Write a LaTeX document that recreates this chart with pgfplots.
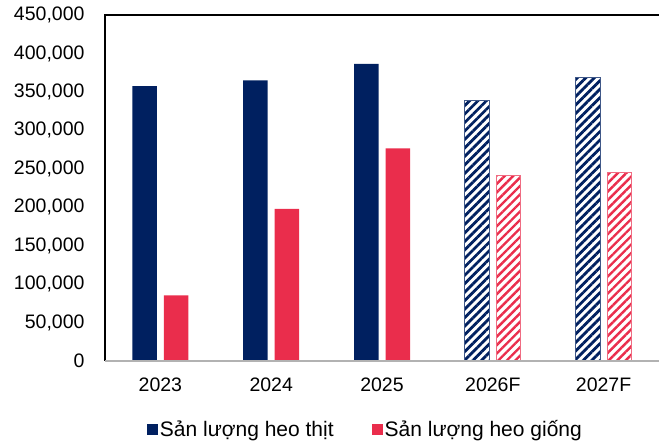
\documentclass[border=0pt]{standalone}
\usepackage{fontspec}
\setmainfont{Liberation Sans}
\usepackage{pgfplots}
\pgfplotsset{compat=1.18}
\usetikzlibrary{patterns.meta,calc}

\definecolor{meatblue}{HTML}{002060}
\definecolor{breedred}{HTML}{EA2D4C}

% Actual years and forecast years
\pgfplotstableread{
x meat breed
0 357500 85500
1 365000 197800
2 386300 276600
}\actual
\pgfplotstableread{
x meat breed
3 338200 241900
4 368100 244900
}\forecast

\begin{document}
\begin{tikzpicture}
\begin{axis}[
  scale only axis,
  width=554pt, height=346pt,
  ymin=0, ymax=450000,
  ytick={0,50000,...,450000},
  scaled y ticks=false,
  /pgf/number format/fixed,
  /pgf/number format/1000 sep={,},
  /pgf/number format/assume math mode=true,
  xmin=-0.5, xmax=4.5,
  xtick={0,1,2,3,4},
  xticklabels={2023,2024,2025,2026F,2027F},
  major tick length=0pt,
  tick label style={font=\fontsize{19.5}{22}\selectfont},
  yticklabel style={xshift=-17pt},
  xticklabel style={yshift=-13pt},
  axis line style={draw=none},
  ybar, bar width=24.5pt,
  legend style={at={(0.47,-0.16)}, anchor=north, draw=none,
    font=\fontsize{21}{24}\selectfont,
    legend columns=2, /tikz/every even column/.append style={column sep=36pt}},
  legend image code/.code={\fill[#1] (0pt,-5.5pt) rectangle (11pt,5.5pt);},
]
\addplot[fill=meatblue, draw=none, bar shift=-15.75pt] table[x=x,y=meat]{\actual};
\addlegendentry{Sản lượng heo thịt}
\addplot[fill=breedred, draw=none, bar shift=15.75pt] table[x=x,y=breed]{\actual};
\addlegendentry{Sản lượng heo giống}
\addplot[forget plot, draw=meatblue!75, line width=1pt, fill=white,
  pattern={Lines[angle=45, distance=6pt, line width=2.8pt]}, pattern color=meatblue,
  bar shift=-15.75pt] table[x=x,y=meat]{\forecast};
\addplot[forget plot, draw=breedred!70, line width=1pt, fill=white,
  pattern={Lines[angle=45, distance=6pt, line width=2.4pt]}, pattern color=breedred,
  bar shift=15.75pt] table[x=x,y=breed]{\forecast};
\end{axis}
% frame: dark on the left and top, light grey along the base
\draw[black, line width=1.6pt] (current axis.south west) -- (current axis.north west) -- (current axis.north east);
\draw[black!30, line width=1.6pt] (current axis.south west) -- (current axis.south east);
\pgfresetboundingbox
\path ($(current axis.south west)+(-105pt,-82pt)$) rectangle ($(current axis.north east)+(0pt,15pt)$);
\end{tikzpicture}
\end{document}
